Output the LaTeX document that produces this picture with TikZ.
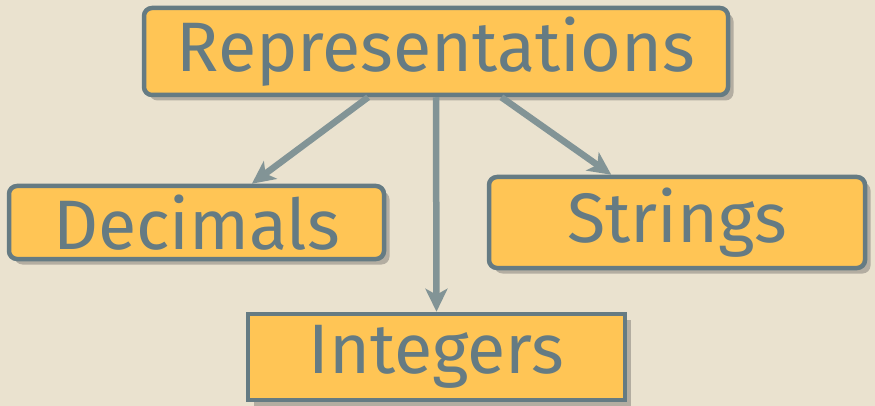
\documentclass[tikz,border=0pt]{standalone}
\usepackage{fontspec}
\setmainfont{Fira Sans}
\usepackage{xcolor}
\usetikzlibrary{arrows.meta,shadows}

\definecolor{paper}{HTML}{EAE2CF}
\definecolor{boxfill}{HTML}{FFC555}
\definecolor{boxline}{HTML}{657B83}
\definecolor{arrowline}{HTML}{829496}
\definecolor{shade}{HTML}{B3ADA1}

\tikzset{
  concept/.style={draw=boxline, fill=boxfill, line width=4.5pt, text=boxline,
    font=\fontsize{70}{78}\selectfont, inner sep=0pt,
    drop shadow={shadow xshift=5.5pt, shadow yshift=-5.5pt, fill=shade, opacity=1}},
  roundbox/.style={concept, rounded corners=8pt},
  link/.style={draw=arrowline, line width=6.5pt,
    -{Stealth[length=23pt, width=22pt, inset=6pt]}}
}

\begin{document}
\begin{tikzpicture}[x=1pt, y=-1pt]
\fill [paper] (0,0) rectangle (875,406);

\node (rep) at (436,51.5) [roundbox, minimum width=584pt, minimum height=87pt] {Representations};
\node (dec) at (196.5,222.5) [roundbox, minimum width=375pt, minimum height=73pt] {Decimals};
\node (str) at (677,222.5) [roundbox, minimum width=376pt, minimum height=91pt] {Strings};
\node (int) at (436.5,357) [concept, minimum width=377pt, minimum height=86pt] {Integers};

\draw [link] (rep.214.6) -- (dec.35.4);
\draw [link] (rep.south) -- (int.north);
\draw [link] (rep.325.4) -- (str.144.7);

\end{tikzpicture}
\end{document}
